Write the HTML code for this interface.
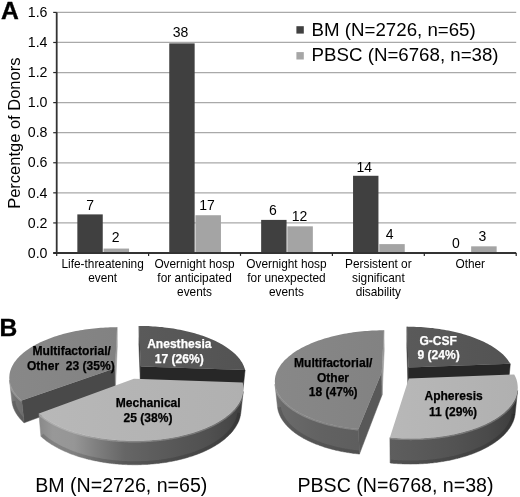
<!DOCTYPE html>
<html><head><meta charset="utf-8"><title>Figure</title>
<style>html,body{margin:0;padding:0;background:#fff}svg{display:block;filter:blur(0.35px)}</style></head>
<body>
<svg width="520" height="497" viewBox="0 0 520 497" font-family="Liberation Sans, Arial, sans-serif">
<defs>
</defs>
<rect width="520" height="497" fill="#fff"/>
<line x1="56.7" x2="516.2" y1="222.93" y2="222.93" stroke="#a9a9a9" stroke-width="1.25"/>
<line x1="56.7" x2="516.2" y1="192.85" y2="192.85" stroke="#a9a9a9" stroke-width="1.25"/>
<line x1="56.7" x2="516.2" y1="162.77" y2="162.77" stroke="#a9a9a9" stroke-width="1.25"/>
<line x1="56.7" x2="516.2" y1="132.70" y2="132.70" stroke="#a9a9a9" stroke-width="1.25"/>
<line x1="56.7" x2="516.2" y1="102.62" y2="102.62" stroke="#a9a9a9" stroke-width="1.25"/>
<line x1="56.7" x2="516.2" y1="72.55" y2="72.55" stroke="#a9a9a9" stroke-width="1.25"/>
<line x1="56.7" x2="516.2" y1="42.47" y2="42.47" stroke="#a9a9a9" stroke-width="1.25"/>
<line x1="56.7" x2="516.2" y1="12.40" y2="12.40" stroke="#a9a9a9" stroke-width="1.25"/>
<rect x="77.35" y="214.39" width="25.4" height="38.61" fill="#404040"/>
<rect x="103.55" y="248.56" width="25.5" height="4.44" fill="#a4a4a4"/>
<text x="90.05" y="210.39" font-size="14" text-anchor="middle" fill="#000">7</text>
<text x="115.65" y="242.26" font-size="14" text-anchor="middle" fill="#000">2</text>
<rect x="169.25" y="43.38" width="25.4" height="209.62" fill="#404040"/>
<rect x="195.45" y="215.23" width="25.5" height="37.77" fill="#a4a4a4"/>
<text x="180.45" y="37.28" font-size="14" text-anchor="middle" fill="#000">38</text>
<text x="207.05" y="210.23" font-size="14" text-anchor="middle" fill="#000">17</text>
<rect x="261.15" y="219.90" width="25.4" height="33.10" fill="#404040"/>
<rect x="287.35" y="226.34" width="25.5" height="26.66" fill="#a4a4a4"/>
<text x="272.95" y="214.90" font-size="14" text-anchor="middle" fill="#000">6</text>
<text x="299.45" y="220.94" font-size="14" text-anchor="middle" fill="#000">12</text>
<rect x="353.05" y="175.77" width="25.4" height="77.23" fill="#404040"/>
<rect x="379.25" y="244.11" width="25.5" height="8.89" fill="#a4a4a4"/>
<text x="364.35" y="171.97" font-size="14" text-anchor="middle" fill="#000">14</text>
<text x="389.65" y="238.51" font-size="14" text-anchor="middle" fill="#000">4</text>
<rect x="471.15" y="246.33" width="25.5" height="6.67" fill="#a4a4a4"/>
<text x="455.95" y="247.60" font-size="14" text-anchor="middle" fill="#000">0</text>
<text x="482.45" y="240.93" font-size="14" text-anchor="middle" fill="#000">3</text>
<line x1="56.7" x2="56.7" y1="12.4" y2="253.5" stroke="#333" stroke-width="1.8"/>
<line x1="53.2" x2="516.2" y1="253.0" y2="253.0" stroke="#333" stroke-width="1.8"/>
<line x1="53.2" x2="56.7" y1="253.00" y2="253.00" stroke="#262626" stroke-width="1.2"/>
<text x="47.5" y="257.70" font-size="14.2" text-anchor="end" fill="#000">0.0</text>
<line x1="53.2" x2="56.7" y1="222.93" y2="222.93" stroke="#262626" stroke-width="1.2"/>
<text x="47.5" y="227.62" font-size="14.2" text-anchor="end" fill="#000">0.2</text>
<line x1="53.2" x2="56.7" y1="192.85" y2="192.85" stroke="#262626" stroke-width="1.2"/>
<text x="47.5" y="197.55" font-size="14.2" text-anchor="end" fill="#000">0.4</text>
<line x1="53.2" x2="56.7" y1="162.77" y2="162.77" stroke="#262626" stroke-width="1.2"/>
<text x="47.5" y="167.47" font-size="14.2" text-anchor="end" fill="#000">0.6</text>
<line x1="53.2" x2="56.7" y1="132.70" y2="132.70" stroke="#262626" stroke-width="1.2"/>
<text x="47.5" y="137.40" font-size="14.2" text-anchor="end" fill="#000">0.8</text>
<line x1="53.2" x2="56.7" y1="102.62" y2="102.62" stroke="#262626" stroke-width="1.2"/>
<text x="47.5" y="107.33" font-size="14.2" text-anchor="end" fill="#000">1.0</text>
<line x1="53.2" x2="56.7" y1="72.55" y2="72.55" stroke="#262626" stroke-width="1.2"/>
<text x="47.5" y="77.25" font-size="14.2" text-anchor="end" fill="#000">1.2</text>
<line x1="53.2" x2="56.7" y1="42.47" y2="42.47" stroke="#262626" stroke-width="1.2"/>
<text x="47.5" y="47.17" font-size="14.2" text-anchor="end" fill="#000">1.4</text>
<line x1="53.2" x2="56.7" y1="12.40" y2="12.40" stroke="#262626" stroke-width="1.2"/>
<text x="47.5" y="17.10" font-size="14.2" text-anchor="end" fill="#000">1.6</text>
<line x1="56.70" x2="56.70" y1="253.0" y2="255.9" stroke="#262626" stroke-width="1.2"/>
<line x1="148.60" x2="148.60" y1="253.0" y2="255.9" stroke="#262626" stroke-width="1.2"/>
<line x1="240.50" x2="240.50" y1="253.0" y2="255.9" stroke="#262626" stroke-width="1.2"/>
<line x1="332.40" x2="332.40" y1="253.0" y2="255.9" stroke="#262626" stroke-width="1.2"/>
<line x1="424.30" x2="424.30" y1="253.0" y2="255.9" stroke="#262626" stroke-width="1.2"/>
<line x1="516.20" x2="516.20" y1="253.0" y2="255.9" stroke="#262626" stroke-width="1.2"/>
<text x="102.65" y="268.30" font-size="11.85" text-anchor="middle" fill="#000">Life-threatening</text>
<text x="102.65" y="282.30" font-size="11.85" text-anchor="middle" fill="#000">event</text>
<text x="194.55" y="268.30" font-size="11.85" text-anchor="middle" fill="#000">Overnight hosp</text>
<text x="194.55" y="282.30" font-size="11.85" text-anchor="middle" fill="#000">for anticipated</text>
<text x="194.55" y="296.30" font-size="11.85" text-anchor="middle" fill="#000">events</text>
<text x="286.45" y="268.30" font-size="11.85" text-anchor="middle" fill="#000">Overnight hosp</text>
<text x="286.45" y="282.30" font-size="11.85" text-anchor="middle" fill="#000">for unexpected</text>
<text x="286.45" y="296.30" font-size="11.85" text-anchor="middle" fill="#000">events</text>
<text x="378.35" y="268.30" font-size="11.85" text-anchor="middle" fill="#000">Persistent or</text>
<text x="378.35" y="282.30" font-size="11.85" text-anchor="middle" fill="#000">significant</text>
<text x="378.35" y="296.30" font-size="11.85" text-anchor="middle" fill="#000">disability</text>
<text x="470.25" y="268.30" font-size="11.85" text-anchor="middle" fill="#000">Other</text>
<text transform="translate(20.2,133.2) rotate(-90)" font-size="16.5" text-anchor="middle" fill="#000">Percentge of Donors</text>
<text x="1.0" y="19.3" font-size="24.7" font-weight="bold" fill="#000" stroke="#000" stroke-width="0.35">A</text>
<text x="-0.5" y="336.0" font-size="24.6" font-weight="bold" fill="#000" stroke="#000" stroke-width="0.35">B</text>
<rect x="296.4" y="26.2" width="7.4" height="7.4" fill="#404040"/>
<text x="311.6" y="35.9" font-size="18.7" fill="#000">BM (N=2726, n=65)</text>
<rect x="296.4" y="52.1" width="7.4" height="7.4" fill="#a6a6a6"/>
<text x="311.6" y="61.3" font-size="18.7" fill="#000">PBSC (N=6768, n=38)</text>
<defs>
<linearGradient id="gM1" x1="0" y1="0" x2="1" y2="0"><stop offset="0" stop-color="#888888"/><stop offset="1" stop-color="#828282"/></linearGradient>
<linearGradient id="gMe1" x1="0" y1="0" x2="1" y2="0"><stop offset="0" stop-color="#b8b8b8"/><stop offset="1" stop-color="#b0b0b0"/></linearGradient>
<linearGradient id="gA1" x1="0" y1="0" x2="1" y2="0"><stop offset="0" stop-color="#5a5a5a"/><stop offset="1" stop-color="#535353"/></linearGradient>
</defs>
<defs></defs>
<polygon points="140.7,366.6 139.1,326.0 138.9,344.3 140.5,387.1" fill="#3a3a3a" stroke="#3a3a3a" stroke-width="0.5" stroke-linejoin="round"/>
<polygon points="140.7,366.6 245.1,370.0 242.8,390.8 140.5,387.1" fill="#272727" stroke="#272727" stroke-width="0.5" stroke-linejoin="round"/>
<polygon points="140.7,366.6 139.1,326.0 141.4,326.0 143.7,326.0 146.0,326.1 148.3,326.1 150.6,326.3 152.9,326.4 155.2,326.5 157.5,326.7 159.8,326.9 162.1,327.1 164.4,327.4 166.6,327.7 168.9,328.0 171.1,328.3 173.4,328.6 175.6,329.0 177.8,329.4 180.0,329.8 182.2,330.2 184.3,330.7 186.4,331.2 188.6,331.7 190.7,332.2 192.7,332.8 194.8,333.3 196.8,333.9 198.8,334.5 200.8,335.2 202.8,335.8 204.7,336.5 206.6,337.2 208.5,338.0 210.3,338.7 212.1,339.5 213.9,340.3 215.6,341.1 217.4,341.9 219.0,342.8 220.7,343.7 222.2,344.6 223.8,345.5 225.3,346.4 226.8,347.4 228.2,348.4 229.6,349.4 230.9,350.4 232.2,351.4 233.4,352.5 234.6,353.5 235.7,354.6 236.8,355.7 237.8,356.8 238.8,358.0 239.7,359.1 240.5,360.3 241.3,361.5 242.1,362.6 242.7,363.8 243.3,365.1 243.9,366.3 244.3,367.5 244.8,368.8 245.1,370.0" fill="url(#gA1)"/>
<defs><linearGradient id="wm1" gradientUnits="userSpaceOnUse" x1="22.9" y1="0" x2="10.7" y2="0"><stop offset="-0.000" stop-color="#6c6c6c"/><stop offset="0.726" stop-color="#747474"/><stop offset="1.000" stop-color="#7c7c7c"/></linearGradient><clipPath id="cm1"><polygon points="21.7,400.6 21.3,400.2 20.8,399.7 20.4,399.3 19.9,398.9 19.5,398.5 19.1,398.1 18.6,397.7 18.2,397.2 17.8,396.8 17.5,396.4 17.1,396.0 16.7,395.5 16.3,395.1 16.0,394.7 15.7,394.3 15.3,393.8 15.0,393.4 14.7,393.0 14.4,392.5 14.1,392.1 13.8,391.7 13.5,391.2 13.2,390.8 13.0,390.3 12.7,389.9 12.5,389.5 12.3,389.0 12.0,388.6 11.8,388.2 11.6,387.7 11.4,387.3 11.2,386.8 11.1,386.4 10.9,386.0 10.7,385.5 10.6,385.1 10.4,384.6 10.3,384.2 10.2,383.8 10.1,383.3 10.0,382.9 9.9,382.4 9.8,382.0 9.7,381.5 9.6,381.1 9.5,380.7 9.5,380.2 11.9,401.5 12.0,401.9 12.0,402.4 12.1,402.8 12.2,403.3 12.3,403.8 12.4,404.2 12.5,404.7 12.6,405.2 12.7,405.6 12.9,406.1 13.0,406.5 13.2,407.0 13.3,407.5 13.5,407.9 13.7,408.4 13.9,408.9 14.1,409.3 14.3,409.8 14.5,410.2 14.7,410.7 14.9,411.2 15.2,411.6 15.4,412.1 15.7,412.5 15.9,413.0 16.2,413.4 16.5,413.9 16.8,414.3 17.1,414.8 17.4,415.3 17.7,415.7 18.1,416.2 18.4,416.6 18.7,417.1 19.1,417.5 19.5,418.0 19.8,418.4 20.2,418.8 20.6,419.3 21.0,419.7 21.4,420.2 21.8,420.6 22.3,421.0 22.7,421.5 23.2,421.9 23.6,422.3 24.1,422.8"/></clipPath></defs>
<polygon points="115.1,368.3 21.7,400.6 24.1,422.8 115.4,388.9" fill="#494949" stroke="#494949" stroke-width="0.5" stroke-linejoin="round"/>
<polygon points="115.1,368.3 117.1,327.2 117.3,345.7 115.4,388.9" fill="#9a9a9a" stroke="#9a9a9a" stroke-width="0.5" stroke-linejoin="round"/>
<polygon points="21.7,400.6 21.3,400.2 20.8,399.7 20.4,399.3 19.9,398.9 19.5,398.5 19.1,398.1 18.6,397.7 18.2,397.2 17.8,396.8 17.5,396.4 17.1,396.0 16.7,395.5 16.3,395.1 16.0,394.7 15.7,394.3 15.3,393.8 15.0,393.4 14.7,393.0 14.4,392.5 14.1,392.1 13.8,391.7 13.5,391.2 13.2,390.8 13.0,390.3 12.7,389.9 12.5,389.5 12.3,389.0 12.0,388.6 11.8,388.2 11.6,387.7 11.4,387.3 11.2,386.8 11.1,386.4 10.9,386.0 10.7,385.5 10.6,385.1 10.4,384.6 10.3,384.2 10.2,383.8 10.1,383.3 10.0,382.9 9.9,382.4 9.8,382.0 9.7,381.5 9.6,381.1 9.5,380.7 9.5,380.2 11.9,401.5 12.0,401.9 12.0,402.4 12.1,402.8 12.2,403.3 12.3,403.8 12.4,404.2 12.5,404.7 12.6,405.2 12.7,405.6 12.9,406.1 13.0,406.5 13.2,407.0 13.3,407.5 13.5,407.9 13.7,408.4 13.9,408.9 14.1,409.3 14.3,409.8 14.5,410.2 14.7,410.7 14.9,411.2 15.2,411.6 15.4,412.1 15.7,412.5 15.9,413.0 16.2,413.4 16.5,413.9 16.8,414.3 17.1,414.8 17.4,415.3 17.7,415.7 18.1,416.2 18.4,416.6 18.7,417.1 19.1,417.5 19.5,418.0 19.8,418.4 20.2,418.8 20.6,419.3 21.0,419.7 21.4,420.2 21.8,420.6 22.3,421.0 22.7,421.5 23.2,421.9 23.6,422.3 24.1,422.8" fill="url(#wm1)" stroke="url(#wm1)" stroke-width="0.5" stroke-linejoin="round"/>
<g clip-path="url(#cm1)" fill="none"><polyline points="21.7,400.6 21.3,400.2 20.8,399.7 20.4,399.3 19.9,398.9 19.5,398.5 19.1,398.1 18.6,397.7 18.2,397.2 17.8,396.8 17.5,396.4 17.1,396.0 16.7,395.5 16.3,395.1 16.0,394.7 15.7,394.3 15.3,393.8 15.0,393.4 14.7,393.0 14.4,392.5 14.1,392.1 13.8,391.7 13.5,391.2 13.2,390.8 13.0,390.3 12.7,389.9 12.5,389.5 12.3,389.0 12.0,388.6 11.8,388.2 11.6,387.7 11.4,387.3 11.2,386.8 11.1,386.4 10.9,386.0 10.7,385.5 10.6,385.1 10.4,384.6 10.3,384.2 10.2,383.8 10.1,383.3 10.0,382.9 9.9,382.4 9.8,382.0 9.7,381.5 9.6,381.1 9.5,380.7 9.5,380.2" stroke="#fff" stroke-opacity="0.22" stroke-width="3.2"/><polyline points="11.9,401.5 12.0,401.9 12.0,402.4 12.1,402.8 12.2,403.3 12.3,403.8 12.4,404.2 12.5,404.7 12.6,405.2 12.7,405.6 12.9,406.1 13.0,406.5 13.2,407.0 13.3,407.5 13.5,407.9 13.7,408.4 13.9,408.9 14.1,409.3 14.3,409.8 14.5,410.2 14.7,410.7 14.9,411.2 15.2,411.6 15.4,412.1 15.7,412.5 15.9,413.0 16.2,413.4 16.5,413.9 16.8,414.3 17.1,414.8 17.4,415.3 17.7,415.7 18.1,416.2 18.4,416.6 18.7,417.1 19.1,417.5 19.5,418.0 19.8,418.4 20.2,418.8 20.6,419.3 21.0,419.7 21.4,420.2 21.8,420.6 22.3,421.0 22.7,421.5 23.2,421.9 23.6,422.3 24.1,422.8" stroke="#000" stroke-opacity="0.14" stroke-width="7"/></g>
<polygon points="115.1,368.3 21.7,400.6 20.4,399.3 19.1,398.1 17.8,396.8 16.7,395.5 15.7,394.3 14.7,393.0 13.8,391.7 13.0,390.4 12.3,389.0 11.6,387.7 11.1,386.4 10.6,385.1 10.2,383.8 9.9,382.4 9.6,381.1 9.4,379.8 9.3,378.5 9.3,377.2 9.4,375.9 9.5,374.6 9.7,373.3 10.0,372.0 10.3,370.7 10.8,369.5 11.2,368.2 11.8,367.0 12.4,365.7 13.1,364.5 13.8,363.3 14.6,362.1 15.5,360.9 16.4,359.8 17.4,358.6 18.4,357.5 19.5,356.3 20.6,355.2 21.8,354.2 23.1,353.1 24.4,352.0 25.7,351.0 27.1,350.0 28.6,349.0 30.0,348.0 31.6,347.1 33.1,346.1 34.8,345.2 36.4,344.3 38.1,343.5 39.8,342.6 41.6,341.8 43.4,341.0 45.2,340.2 47.1,339.4 48.9,338.7 50.9,338.0 52.8,337.3 54.8,336.6 56.8,335.9 58.8,335.3 60.9,334.7 63.0,334.1 65.1,333.6 67.2,333.0 69.3,332.5 71.5,332.0 73.7,331.6 75.9,331.1 78.1,330.7 80.3,330.3 82.5,329.9 84.8,329.6 87.0,329.3 89.3,329.0 91.6,328.7 93.9,328.4 96.2,328.2 98.5,328.0 100.8,327.8 103.1,327.7 105.5,327.5 107.8,327.4 110.1,327.3 112.5,327.3 114.8,327.2 117.1,327.2" fill="url(#gM1)"/>
<defs><linearGradient id="wme1" gradientUnits="userSpaceOnUse" x1="241.6" y1="0" x2="40.0" y2="0"><stop offset="-0.000" stop-color="#3a3a3a"/><stop offset="-0.001" stop-color="#3e3e3e"/><stop offset="0.066" stop-color="#484848"/><stop offset="0.163" stop-color="#505050"/><stop offset="0.295" stop-color="#565656"/><stop offset="0.436" stop-color="#5d5d5d"/><stop offset="0.580" stop-color="#666666"/><stop offset="0.725" stop-color="#808080"/><stop offset="0.831" stop-color="#969696"/><stop offset="0.936" stop-color="#989898"/><stop offset="1.000" stop-color="#8a8a8a"/></linearGradient><clipPath id="cme1"><polygon points="243.2,391.4 243.1,391.9 243.0,392.4 242.9,392.9 242.9,393.3 242.8,393.8 242.7,394.3 242.5,394.8 242.4,395.2 242.3,395.7 242.1,396.2 242.0,396.7 241.8,397.1 241.6,397.6 241.5,398.1 241.3,398.6 241.1,399.0 240.9,399.5 240.6,400.0 240.4,400.5 240.2,400.9 239.9,401.4 239.7,401.9 239.4,402.4 239.1,402.8 238.9,403.3 238.6,403.8 238.3,404.2 237.9,404.7 237.6,405.2 237.3,405.7 237.0,406.1 236.6,406.6 236.2,407.1 235.9,407.5 235.5,408.0 235.1,408.4 234.7,408.9 234.3,409.4 233.9,409.8 233.5,410.3 233.0,410.7 232.6,411.2 232.1,411.6 231.6,412.1 231.2,412.5 230.7,413.0 230.2,413.4 229.7,413.9 229.2,414.3 228.7,414.8 228.1,415.2 227.6,415.6 227.0,416.1 226.5,416.5 225.9,416.9 225.3,417.4 224.7,417.8 224.1,418.2 223.5,418.6 222.9,419.0 222.3,419.5 221.7,419.9 221.0,420.3 220.4,420.7 219.7,421.1 219.0,421.5 218.3,421.9 217.7,422.3 217.0,422.7 216.2,423.1 215.5,423.5 214.8,423.9 214.1,424.2 213.3,424.6 212.6,425.0 211.8,425.4 211.1,425.7 210.3,426.1 209.5,426.5 208.7,426.8 207.9,427.2 207.1,427.5 206.3,427.9 205.5,428.2 204.6,428.6 203.8,428.9 202.9,429.2 202.1,429.6 201.2,429.9 200.3,430.2 199.5,430.5 198.6,430.9 197.7,431.2 196.8,431.5 195.9,431.8 195.0,432.1 194.0,432.4 193.1,432.7 192.2,432.9 191.2,433.2 190.3,433.5 189.3,433.8 188.4,434.0 187.4,434.3 186.4,434.6 185.4,434.8 184.4,435.1 183.4,435.3 182.4,435.5 181.4,435.8 180.4,436.0 179.4,436.2 178.4,436.4 177.4,436.7 176.3,436.9 175.3,437.1 174.3,437.3 173.2,437.5 172.2,437.7 171.1,437.8 170.0,438.0 169.0,438.2 167.9,438.4 166.8,438.5 165.8,438.7 164.7,438.8 163.6,439.0 162.5,439.1 161.4,439.2 160.3,439.4 159.2,439.5 158.1,439.6 157.0,439.7 155.9,439.8 154.8,439.9 153.7,440.0 152.6,440.1 151.4,440.2 150.3,440.3 149.2,440.4 148.1,440.4 147.0,440.5 145.8,440.6 144.7,440.6 143.6,440.7 142.4,440.7 141.3,440.7 140.2,440.8 139.0,440.8 137.9,440.8 136.8,440.8 135.6,440.8 134.5,440.8 133.4,440.8 132.2,440.8 131.1,440.8 130.0,440.8 128.8,440.8 127.7,440.7 126.6,440.7 125.4,440.6 124.3,440.6 123.2,440.5 122.1,440.5 120.9,440.4 119.8,440.3 118.7,440.3 117.6,440.2 116.5,440.1 115.3,440.0 114.2,439.9 113.1,439.8 112.0,439.7 110.9,439.6 109.8,439.4 108.7,439.3 107.6,439.2 106.5,439.0 105.4,438.9 104.3,438.7 103.2,438.6 102.2,438.4 101.1,438.3 100.0,438.1 98.9,437.9 97.9,437.7 96.8,437.5 95.8,437.3 94.7,437.1 93.7,436.9 92.6,436.7 91.6,436.5 90.6,436.3 89.5,436.1 88.5,435.9 87.5,435.6 86.5,435.4 85.5,435.2 84.5,434.9 83.5,434.7 82.5,434.4 81.5,434.1 80.6,433.9 79.6,433.6 78.6,433.3 77.7,433.1 76.7,432.8 75.8,432.5 74.9,432.2 73.9,431.9 73.0,431.6 72.1,431.3 71.2,431.0 70.3,430.7 69.4,430.4 68.5,430.0 67.6,429.7 66.8,429.4 65.9,429.0 65.0,428.7 64.2,428.4 63.4,428.0 62.5,427.7 61.7,427.3 60.9,427.0 60.1,426.6 59.3,426.2 58.5,425.9 57.7,425.5 56.9,425.1 56.2,424.8 55.4,424.4 54.7,424.0 53.9,423.6 53.2,423.2 52.5,422.8 51.8,422.5 51.1,422.1 50.4,421.7 49.7,421.3 49.0,420.8 48.3,420.4 47.7,420.0 47.0,419.6 46.4,419.2 45.7,418.8 45.1,418.4 44.5,417.9 43.9,417.5 43.3,417.1 42.7,416.7 42.1,416.2 41.6,415.8 41.0,415.4 40.5,414.9 39.9,414.5 39.4,414.0 38.9,413.6 40.9,436.4 41.4,436.8 41.9,437.3 42.5,437.8 43.0,438.2 43.6,438.7 44.1,439.1 44.7,439.6 45.3,440.0 45.8,440.5 46.4,440.9 47.0,441.4 47.6,441.8 48.3,442.2 48.9,442.7 49.5,443.1 50.2,443.5 50.8,444.0 51.5,444.4 52.2,444.8 52.9,445.2 53.6,445.6 54.3,446.0 55.0,446.4 55.7,446.8 56.4,447.2 57.1,447.6 57.9,448.0 58.6,448.4 59.4,448.8 60.1,449.2 60.9,449.6 61.7,450.0 62.5,450.3 63.3,450.7 64.1,451.1 64.9,451.4 65.7,451.8 66.6,452.1 67.4,452.5 68.2,452.8 69.1,453.2 69.9,453.5 70.8,453.9 71.7,454.2 72.6,454.5 73.4,454.8 74.3,455.1 75.2,455.5 76.1,455.8 77.1,456.1 78.0,456.4 78.9,456.7 79.8,457.0 80.8,457.2 81.7,457.5 82.7,457.8 83.6,458.1 84.6,458.3 85.6,458.6 86.5,458.9 87.5,459.1 88.5,459.4 89.5,459.6 90.5,459.8 91.5,460.1 92.5,460.3 93.5,460.5 94.5,460.7 95.5,460.9 96.6,461.1 97.6,461.3 98.6,461.5 99.7,461.7 100.7,461.9 101.8,462.1 102.8,462.3 103.9,462.4 104.9,462.6 106.0,462.7 107.0,462.9 108.1,463.0 109.2,463.2 110.3,463.3 111.3,463.4 112.4,463.6 113.5,463.7 114.6,463.8 115.7,463.9 116.8,464.0 117.9,464.1 118.9,464.2 120.0,464.2 121.1,464.3 122.2,464.4 123.3,464.5 124.4,464.5 125.5,464.6 126.6,464.6 127.7,464.7 128.9,464.7 130.0,464.7 131.1,464.7 132.2,464.8 133.3,464.8 134.4,464.8 135.5,464.8 136.6,464.8 137.7,464.8 138.8,464.7 139.9,464.7 141.0,464.7 142.1,464.6 143.2,464.6 144.3,464.5 145.4,464.5 146.5,464.4 147.6,464.4 148.7,464.3 149.8,464.2 150.9,464.1 152.0,464.0 153.1,463.9 154.2,463.8 155.3,463.7 156.3,463.6 157.4,463.5 158.5,463.4 159.6,463.3 160.6,463.1 161.7,463.0 162.8,462.8 163.8,462.7 164.9,462.5 165.9,462.4 167.0,462.2 168.0,462.0 169.1,461.8 170.1,461.6 171.1,461.5 172.1,461.3 173.2,461.1 174.2,460.9 175.2,460.6 176.2,460.4 177.2,460.2 178.2,460.0 179.2,459.7 180.2,459.5 181.2,459.3 182.1,459.0 183.1,458.8 184.1,458.5 185.0,458.2 186.0,458.0 186.9,457.7 187.9,457.4 188.8,457.1 189.7,456.8 190.7,456.6 191.6,456.3 192.5,456.0 193.4,455.7 194.3,455.3 195.2,455.0 196.1,454.7 196.9,454.4 197.8,454.1 198.7,453.7 199.5,453.4 200.4,453.1 201.2,452.7 202.0,452.4 202.9,452.0 203.7,451.7 204.5,451.3 205.3,450.9 206.1,450.6 206.9,450.2 207.6,449.8 208.4,449.4 209.2,449.1 209.9,448.7 210.6,448.3 211.4,447.9 212.1,447.5 212.8,447.1 213.5,446.7 214.2,446.3 214.9,445.9 215.6,445.5 216.3,445.0 217.0,444.6 217.6,444.2 218.3,443.8 218.9,443.4 219.5,442.9 220.2,442.5 220.8,442.1 221.4,441.6 222.0,441.2 222.6,440.7 223.1,440.3 223.7,439.9 224.3,439.4 224.8,439.0 225.4,438.5 225.9,438.0 226.4,437.6 226.9,437.1 227.4,436.7 227.9,436.2 228.4,435.7 228.9,435.3 229.4,434.8 229.8,434.3 230.3,433.9 230.7,433.4 231.1,432.9 231.6,432.4 232.0,432.0 232.4,431.5 232.8,431.0 233.1,430.5 233.5,430.0 233.9,429.5 234.2,429.1 234.6,428.6 234.9,428.1 235.2,427.6 235.6,427.1 235.9,426.6 236.2,426.1 236.5,425.6 236.7,425.1 237.0,424.6 237.3,424.1 237.5,423.7 237.8,423.2 238.0,422.7 238.2,422.2 238.5,421.7 238.7,421.2 238.9,420.7 239.1,420.2 239.2,419.7 239.4,419.2 239.6,418.7 239.7,418.2 239.9,417.7 240.0,417.2 240.1,416.7 240.2,416.2 240.4,415.7 240.5,415.2 240.5,414.7 240.6,414.2 240.7,413.7 240.8,413.2"/></clipPath></defs>
<polygon points="243.2,391.4 243.1,391.9 243.0,392.4 242.9,392.9 242.9,393.3 242.8,393.8 242.7,394.3 242.5,394.8 242.4,395.2 242.3,395.7 242.1,396.2 242.0,396.7 241.8,397.1 241.6,397.6 241.5,398.1 241.3,398.6 241.1,399.0 240.9,399.5 240.6,400.0 240.4,400.5 240.2,400.9 239.9,401.4 239.7,401.9 239.4,402.4 239.1,402.8 238.9,403.3 238.6,403.8 238.3,404.2 237.9,404.7 237.6,405.2 237.3,405.7 237.0,406.1 236.6,406.6 236.2,407.1 235.9,407.5 235.5,408.0 235.1,408.4 234.7,408.9 234.3,409.4 233.9,409.8 233.5,410.3 233.0,410.7 232.6,411.2 232.1,411.6 231.6,412.1 231.2,412.5 230.7,413.0 230.2,413.4 229.7,413.9 229.2,414.3 228.7,414.8 228.1,415.2 227.6,415.6 227.0,416.1 226.5,416.5 225.9,416.9 225.3,417.4 224.7,417.8 224.1,418.2 223.5,418.6 222.9,419.0 222.3,419.5 221.7,419.9 221.0,420.3 220.4,420.7 219.7,421.1 219.0,421.5 218.3,421.9 217.7,422.3 217.0,422.7 216.2,423.1 215.5,423.5 214.8,423.9 214.1,424.2 213.3,424.6 212.6,425.0 211.8,425.4 211.1,425.7 210.3,426.1 209.5,426.5 208.7,426.8 207.9,427.2 207.1,427.5 206.3,427.9 205.5,428.2 204.6,428.6 203.8,428.9 202.9,429.2 202.1,429.6 201.2,429.9 200.3,430.2 199.5,430.5 198.6,430.9 197.7,431.2 196.8,431.5 195.9,431.8 195.0,432.1 194.0,432.4 193.1,432.7 192.2,432.9 191.2,433.2 190.3,433.5 189.3,433.8 188.4,434.0 187.4,434.3 186.4,434.6 185.4,434.8 184.4,435.1 183.4,435.3 182.4,435.5 181.4,435.8 180.4,436.0 179.4,436.2 178.4,436.4 177.4,436.7 176.3,436.9 175.3,437.1 174.3,437.3 173.2,437.5 172.2,437.7 171.1,437.8 170.0,438.0 169.0,438.2 167.9,438.4 166.8,438.5 165.8,438.7 164.7,438.8 163.6,439.0 162.5,439.1 161.4,439.2 160.3,439.4 159.2,439.5 158.1,439.6 157.0,439.7 155.9,439.8 154.8,439.9 153.7,440.0 152.6,440.1 151.4,440.2 150.3,440.3 149.2,440.4 148.1,440.4 147.0,440.5 145.8,440.6 144.7,440.6 143.6,440.7 142.4,440.7 141.3,440.7 140.2,440.8 139.0,440.8 137.9,440.8 136.8,440.8 135.6,440.8 134.5,440.8 133.4,440.8 132.2,440.8 131.1,440.8 130.0,440.8 128.8,440.8 127.7,440.7 126.6,440.7 125.4,440.6 124.3,440.6 123.2,440.5 122.1,440.5 120.9,440.4 119.8,440.3 118.7,440.3 117.6,440.2 116.5,440.1 115.3,440.0 114.2,439.9 113.1,439.8 112.0,439.7 110.9,439.6 109.8,439.4 108.7,439.3 107.6,439.2 106.5,439.0 105.4,438.9 104.3,438.7 103.2,438.6 102.2,438.4 101.1,438.3 100.0,438.1 98.9,437.9 97.9,437.7 96.8,437.5 95.8,437.3 94.7,437.1 93.7,436.9 92.6,436.7 91.6,436.5 90.6,436.3 89.5,436.1 88.5,435.9 87.5,435.6 86.5,435.4 85.5,435.2 84.5,434.9 83.5,434.7 82.5,434.4 81.5,434.1 80.6,433.9 79.6,433.6 78.6,433.3 77.7,433.1 76.7,432.8 75.8,432.5 74.9,432.2 73.9,431.9 73.0,431.6 72.1,431.3 71.2,431.0 70.3,430.7 69.4,430.4 68.5,430.0 67.6,429.7 66.8,429.4 65.9,429.0 65.0,428.7 64.2,428.4 63.4,428.0 62.5,427.7 61.7,427.3 60.9,427.0 60.1,426.6 59.3,426.2 58.5,425.9 57.7,425.5 56.9,425.1 56.2,424.8 55.4,424.4 54.7,424.0 53.9,423.6 53.2,423.2 52.5,422.8 51.8,422.5 51.1,422.1 50.4,421.7 49.7,421.3 49.0,420.8 48.3,420.4 47.7,420.0 47.0,419.6 46.4,419.2 45.7,418.8 45.1,418.4 44.5,417.9 43.9,417.5 43.3,417.1 42.7,416.7 42.1,416.2 41.6,415.8 41.0,415.4 40.5,414.9 39.9,414.5 39.4,414.0 38.9,413.6 40.9,436.4 41.4,436.8 41.9,437.3 42.5,437.8 43.0,438.2 43.6,438.7 44.1,439.1 44.7,439.6 45.3,440.0 45.8,440.5 46.4,440.9 47.0,441.4 47.6,441.8 48.3,442.2 48.9,442.7 49.5,443.1 50.2,443.5 50.8,444.0 51.5,444.4 52.2,444.8 52.9,445.2 53.6,445.6 54.3,446.0 55.0,446.4 55.7,446.8 56.4,447.2 57.1,447.6 57.9,448.0 58.6,448.4 59.4,448.8 60.1,449.2 60.9,449.6 61.7,450.0 62.5,450.3 63.3,450.7 64.1,451.1 64.9,451.4 65.7,451.8 66.6,452.1 67.4,452.5 68.2,452.8 69.1,453.2 69.9,453.5 70.8,453.9 71.7,454.2 72.6,454.5 73.4,454.8 74.3,455.1 75.2,455.5 76.1,455.8 77.1,456.1 78.0,456.4 78.9,456.7 79.8,457.0 80.8,457.2 81.7,457.5 82.7,457.8 83.6,458.1 84.6,458.3 85.6,458.6 86.5,458.9 87.5,459.1 88.5,459.4 89.5,459.6 90.5,459.8 91.5,460.1 92.5,460.3 93.5,460.5 94.5,460.7 95.5,460.9 96.6,461.1 97.6,461.3 98.6,461.5 99.7,461.7 100.7,461.9 101.8,462.1 102.8,462.3 103.9,462.4 104.9,462.6 106.0,462.7 107.0,462.9 108.1,463.0 109.2,463.2 110.3,463.3 111.3,463.4 112.4,463.6 113.5,463.7 114.6,463.8 115.7,463.9 116.8,464.0 117.9,464.1 118.9,464.2 120.0,464.2 121.1,464.3 122.2,464.4 123.3,464.5 124.4,464.5 125.5,464.6 126.6,464.6 127.7,464.7 128.9,464.7 130.0,464.7 131.1,464.7 132.2,464.8 133.3,464.8 134.4,464.8 135.5,464.8 136.6,464.8 137.7,464.8 138.8,464.7 139.9,464.7 141.0,464.7 142.1,464.6 143.2,464.6 144.3,464.5 145.4,464.5 146.5,464.4 147.6,464.4 148.7,464.3 149.8,464.2 150.9,464.1 152.0,464.0 153.1,463.9 154.2,463.8 155.3,463.7 156.3,463.6 157.4,463.5 158.5,463.4 159.6,463.3 160.6,463.1 161.7,463.0 162.8,462.8 163.8,462.7 164.9,462.5 165.9,462.4 167.0,462.2 168.0,462.0 169.1,461.8 170.1,461.6 171.1,461.5 172.1,461.3 173.2,461.1 174.2,460.9 175.2,460.6 176.2,460.4 177.2,460.2 178.2,460.0 179.2,459.7 180.2,459.5 181.2,459.3 182.1,459.0 183.1,458.8 184.1,458.5 185.0,458.2 186.0,458.0 186.9,457.7 187.9,457.4 188.8,457.1 189.7,456.8 190.7,456.6 191.6,456.3 192.5,456.0 193.4,455.7 194.3,455.3 195.2,455.0 196.1,454.7 196.9,454.4 197.8,454.1 198.7,453.7 199.5,453.4 200.4,453.1 201.2,452.7 202.0,452.4 202.9,452.0 203.7,451.7 204.5,451.3 205.3,450.9 206.1,450.6 206.9,450.2 207.6,449.8 208.4,449.4 209.2,449.1 209.9,448.7 210.6,448.3 211.4,447.9 212.1,447.5 212.8,447.1 213.5,446.7 214.2,446.3 214.9,445.9 215.6,445.5 216.3,445.0 217.0,444.6 217.6,444.2 218.3,443.8 218.9,443.4 219.5,442.9 220.2,442.5 220.8,442.1 221.4,441.6 222.0,441.2 222.6,440.7 223.1,440.3 223.7,439.9 224.3,439.4 224.8,439.0 225.4,438.5 225.9,438.0 226.4,437.6 226.9,437.1 227.4,436.7 227.9,436.2 228.4,435.7 228.9,435.3 229.4,434.8 229.8,434.3 230.3,433.9 230.7,433.4 231.1,432.9 231.6,432.4 232.0,432.0 232.4,431.5 232.8,431.0 233.1,430.5 233.5,430.0 233.9,429.5 234.2,429.1 234.6,428.6 234.9,428.1 235.2,427.6 235.6,427.1 235.9,426.6 236.2,426.1 236.5,425.6 236.7,425.1 237.0,424.6 237.3,424.1 237.5,423.7 237.8,423.2 238.0,422.7 238.2,422.2 238.5,421.7 238.7,421.2 238.9,420.7 239.1,420.2 239.2,419.7 239.4,419.2 239.6,418.7 239.7,418.2 239.9,417.7 240.0,417.2 240.1,416.7 240.2,416.2 240.4,415.7 240.5,415.2 240.5,414.7 240.6,414.2 240.7,413.7 240.8,413.2" fill="url(#wme1)" stroke="url(#wme1)" stroke-width="0.5" stroke-linejoin="round"/>
<g clip-path="url(#cme1)" fill="none"><polyline points="243.2,391.4 243.1,391.9 243.0,392.4 242.9,392.9 242.9,393.3 242.8,393.8 242.7,394.3 242.5,394.8 242.4,395.2 242.3,395.7 242.1,396.2 242.0,396.7 241.8,397.1 241.6,397.6 241.5,398.1 241.3,398.6 241.1,399.0 240.9,399.5 240.6,400.0 240.4,400.5 240.2,400.9 239.9,401.4 239.7,401.9 239.4,402.4 239.1,402.8 238.9,403.3 238.6,403.8 238.3,404.2 237.9,404.7 237.6,405.2 237.3,405.7 237.0,406.1 236.6,406.6 236.2,407.1 235.9,407.5 235.5,408.0 235.1,408.4 234.7,408.9 234.3,409.4 233.9,409.8 233.5,410.3 233.0,410.7 232.6,411.2 232.1,411.6 231.6,412.1 231.2,412.5 230.7,413.0 230.2,413.4 229.7,413.9 229.2,414.3 228.7,414.8 228.1,415.2 227.6,415.6 227.0,416.1 226.5,416.5 225.9,416.9 225.3,417.4 224.7,417.8 224.1,418.2 223.5,418.6 222.9,419.0 222.3,419.5 221.7,419.9 221.0,420.3 220.4,420.7 219.7,421.1 219.0,421.5 218.3,421.9 217.7,422.3 217.0,422.7 216.2,423.1 215.5,423.5 214.8,423.9 214.1,424.2 213.3,424.6 212.6,425.0 211.8,425.4 211.1,425.7 210.3,426.1 209.5,426.5 208.7,426.8 207.9,427.2 207.1,427.5 206.3,427.9 205.5,428.2 204.6,428.6 203.8,428.9 202.9,429.2 202.1,429.6 201.2,429.9 200.3,430.2 199.5,430.5 198.6,430.9 197.7,431.2 196.8,431.5 195.9,431.8 195.0,432.1 194.0,432.4 193.1,432.7 192.2,432.9 191.2,433.2 190.3,433.5 189.3,433.8 188.4,434.0 187.4,434.3 186.4,434.6 185.4,434.8 184.4,435.1 183.4,435.3 182.4,435.5 181.4,435.8 180.4,436.0 179.4,436.2 178.4,436.4 177.4,436.7 176.3,436.9 175.3,437.1 174.3,437.3 173.2,437.5 172.2,437.7 171.1,437.8 170.0,438.0 169.0,438.2 167.9,438.4 166.8,438.5 165.8,438.7 164.7,438.8 163.6,439.0 162.5,439.1 161.4,439.2 160.3,439.4 159.2,439.5 158.1,439.6 157.0,439.7 155.9,439.8 154.8,439.9 153.7,440.0 152.6,440.1 151.4,440.2 150.3,440.3 149.2,440.4 148.1,440.4 147.0,440.5 145.8,440.6 144.7,440.6 143.6,440.7 142.4,440.7 141.3,440.7 140.2,440.8 139.0,440.8 137.9,440.8 136.8,440.8 135.6,440.8 134.5,440.8 133.4,440.8 132.2,440.8 131.1,440.8 130.0,440.8 128.8,440.8 127.7,440.7 126.6,440.7 125.4,440.6 124.3,440.6 123.2,440.5 122.1,440.5 120.9,440.4 119.8,440.3 118.7,440.3 117.6,440.2 116.5,440.1 115.3,440.0 114.2,439.9 113.1,439.8 112.0,439.7 110.9,439.6 109.8,439.4 108.7,439.3 107.6,439.2 106.5,439.0 105.4,438.9 104.3,438.7 103.2,438.6 102.2,438.4 101.1,438.3 100.0,438.1 98.9,437.9 97.9,437.7 96.8,437.5 95.8,437.3 94.7,437.1 93.7,436.9 92.6,436.7 91.6,436.5 90.6,436.3 89.5,436.1 88.5,435.9 87.5,435.6 86.5,435.4 85.5,435.2 84.5,434.9 83.5,434.7 82.5,434.4 81.5,434.1 80.6,433.9 79.6,433.6 78.6,433.3 77.7,433.1 76.7,432.8 75.8,432.5 74.9,432.2 73.9,431.9 73.0,431.6 72.1,431.3 71.2,431.0 70.3,430.7 69.4,430.4 68.5,430.0 67.6,429.7 66.8,429.4 65.9,429.0 65.0,428.7 64.2,428.4 63.4,428.0 62.5,427.7 61.7,427.3 60.9,427.0 60.1,426.6 59.3,426.2 58.5,425.9 57.7,425.5 56.9,425.1 56.2,424.8 55.4,424.4 54.7,424.0 53.9,423.6 53.2,423.2 52.5,422.8 51.8,422.5 51.1,422.1 50.4,421.7 49.7,421.3 49.0,420.8 48.3,420.4 47.7,420.0 47.0,419.6 46.4,419.2 45.7,418.8 45.1,418.4 44.5,417.9 43.9,417.5 43.3,417.1 42.7,416.7 42.1,416.2 41.6,415.8 41.0,415.4 40.5,414.9 39.9,414.5 39.4,414.0 38.9,413.6" stroke="#fff" stroke-opacity="0.22" stroke-width="3.2"/><polyline points="40.9,436.4 41.4,436.8 41.9,437.3 42.5,437.8 43.0,438.2 43.6,438.7 44.1,439.1 44.7,439.6 45.3,440.0 45.8,440.5 46.4,440.9 47.0,441.4 47.6,441.8 48.3,442.2 48.9,442.7 49.5,443.1 50.2,443.5 50.8,444.0 51.5,444.4 52.2,444.8 52.9,445.2 53.6,445.6 54.3,446.0 55.0,446.4 55.7,446.8 56.4,447.2 57.1,447.6 57.9,448.0 58.6,448.4 59.4,448.8 60.1,449.2 60.9,449.6 61.7,450.0 62.5,450.3 63.3,450.7 64.1,451.1 64.9,451.4 65.7,451.8 66.6,452.1 67.4,452.5 68.2,452.8 69.1,453.2 69.9,453.5 70.8,453.9 71.7,454.2 72.6,454.5 73.4,454.8 74.3,455.1 75.2,455.5 76.1,455.8 77.1,456.1 78.0,456.4 78.9,456.7 79.8,457.0 80.8,457.2 81.7,457.5 82.7,457.8 83.6,458.1 84.6,458.3 85.6,458.6 86.5,458.9 87.5,459.1 88.5,459.4 89.5,459.6 90.5,459.8 91.5,460.1 92.5,460.3 93.5,460.5 94.5,460.7 95.5,460.9 96.6,461.1 97.6,461.3 98.6,461.5 99.7,461.7 100.7,461.9 101.8,462.1 102.8,462.3 103.9,462.4 104.9,462.6 106.0,462.7 107.0,462.9 108.1,463.0 109.2,463.2 110.3,463.3 111.3,463.4 112.4,463.6 113.5,463.7 114.6,463.8 115.7,463.9 116.8,464.0 117.9,464.1 118.9,464.2 120.0,464.2 121.1,464.3 122.2,464.4 123.3,464.5 124.4,464.5 125.5,464.6 126.6,464.6 127.7,464.7 128.9,464.7 130.0,464.7 131.1,464.7 132.2,464.8 133.3,464.8 134.4,464.8 135.5,464.8 136.6,464.8 137.7,464.8 138.8,464.7 139.9,464.7 141.0,464.7 142.1,464.6 143.2,464.6 144.3,464.5 145.4,464.5 146.5,464.4 147.6,464.4 148.7,464.3 149.8,464.2 150.9,464.1 152.0,464.0 153.1,463.9 154.2,463.8 155.3,463.7 156.3,463.6 157.4,463.5 158.5,463.4 159.6,463.3 160.6,463.1 161.7,463.0 162.8,462.8 163.8,462.7 164.9,462.5 165.9,462.4 167.0,462.2 168.0,462.0 169.1,461.8 170.1,461.6 171.1,461.5 172.1,461.3 173.2,461.1 174.2,460.9 175.2,460.6 176.2,460.4 177.2,460.2 178.2,460.0 179.2,459.7 180.2,459.5 181.2,459.3 182.1,459.0 183.1,458.8 184.1,458.5 185.0,458.2 186.0,458.0 186.9,457.7 187.9,457.4 188.8,457.1 189.7,456.8 190.7,456.6 191.6,456.3 192.5,456.0 193.4,455.7 194.3,455.3 195.2,455.0 196.1,454.7 196.9,454.4 197.8,454.1 198.7,453.7 199.5,453.4 200.4,453.1 201.2,452.7 202.0,452.4 202.9,452.0 203.7,451.7 204.5,451.3 205.3,450.9 206.1,450.6 206.9,450.2 207.6,449.8 208.4,449.4 209.2,449.1 209.9,448.7 210.6,448.3 211.4,447.9 212.1,447.5 212.8,447.1 213.5,446.7 214.2,446.3 214.9,445.9 215.6,445.5 216.3,445.0 217.0,444.6 217.6,444.2 218.3,443.8 218.9,443.4 219.5,442.9 220.2,442.5 220.8,442.1 221.4,441.6 222.0,441.2 222.6,440.7 223.1,440.3 223.7,439.9 224.3,439.4 224.8,439.0 225.4,438.5 225.9,438.0 226.4,437.6 226.9,437.1 227.4,436.7 227.9,436.2 228.4,435.7 228.9,435.3 229.4,434.8 229.8,434.3 230.3,433.9 230.7,433.4 231.1,432.9 231.6,432.4 232.0,432.0 232.4,431.5 232.8,431.0 233.1,430.5 233.5,430.0 233.9,429.5 234.2,429.1 234.6,428.6 234.9,428.1 235.2,427.6 235.6,427.1 235.9,426.6 236.2,426.1 236.5,425.6 236.7,425.1 237.0,424.6 237.3,424.1 237.5,423.7 237.8,423.2 238.0,422.7 238.2,422.2 238.5,421.7 238.7,421.2 238.9,420.7 239.1,420.2 239.2,419.7 239.4,419.2 239.6,418.7 239.7,418.2 239.9,417.7 240.0,417.2 240.1,416.7 240.2,416.2 240.4,415.7 240.5,415.2 240.5,414.7 240.6,414.2 240.7,413.7 240.8,413.2" stroke="#000" stroke-opacity="0.14" stroke-width="7"/></g>
<polygon points="133.9,378.8 242.7,382.6 243.0,383.9 243.2,385.3 243.3,386.7 243.4,388.1 243.3,389.5 243.2,390.9 243.0,392.3 242.8,393.7 242.4,395.1 242.0,396.6 241.5,398.0 240.9,399.4 240.3,400.8 239.5,402.2 238.7,403.6 237.7,405.0 236.7,406.4 235.6,407.8 234.5,409.2 233.2,410.5 231.9,411.9 230.4,413.2 228.9,414.5 227.3,415.8 225.6,417.1 223.9,418.4 222.0,419.6 220.1,420.8 218.1,422.0 216.0,423.2 213.8,424.4 211.6,425.5 209.3,426.6 206.9,427.6 204.4,428.7 201.9,429.6 199.3,430.6 196.6,431.5 193.9,432.4 191.1,433.3 188.3,434.1 185.4,434.8 182.4,435.5 179.4,436.2 176.3,436.9 173.2,437.5 170.1,438.0 166.9,438.5 163.7,439.0 160.4,439.4 157.2,439.7 153.9,440.0 150.5,440.3 147.2,440.5 143.8,440.7 140.5,440.8 137.1,440.8 133.7,440.8 130.3,440.8 127.0,440.7 123.6,440.6 120.2,440.4 116.9,440.1 113.6,439.8 110.3,439.5 107.0,439.1 103.8,438.7 100.6,438.2 97.4,437.6 94.3,437.1 91.2,436.4 88.1,435.8 85.1,435.1 82.2,434.3 79.3,433.5 76.4,432.7 73.7,431.8 71.0,430.9 68.3,430.0 65.7,429.0 63.2,428.0 60.8,426.9 58.4,425.8 56.1,424.7 53.9,423.6 51.7,422.4 49.6,421.2 47.6,420.0 45.7,418.8 43.9,417.5 42.2,416.2 40.5,414.9 38.9,413.6" fill="url(#gMe1)"/>
<defs></defs>
<polygon points="408.4,367.6 407.0,326.7 406.8,346.7 408.2,389.8" fill="#3a3a3a" stroke="#3a3a3a" stroke-width="0.5" stroke-linejoin="round"/>
<polygon points="408.4,367.6 510.3,363.8 508.2,385.7 408.2,389.8" fill="#272727" stroke="#272727" stroke-width="0.5" stroke-linejoin="round"/>
<polygon points="408.4,367.6 407.0,326.7 409.3,326.7 411.7,326.7 414.0,326.8 416.4,326.9 418.7,327.0 421.0,327.1 423.4,327.3 425.7,327.5 428.0,327.7 430.3,327.9 432.6,328.1 434.9,328.4 437.2,328.7 439.5,329.0 441.7,329.4 444.0,329.8 446.2,330.2 448.4,330.6 450.6,331.0 452.8,331.5 455.0,332.0 457.1,332.5 459.2,333.0 461.3,333.6 463.4,334.2 465.4,334.8 467.5,335.4 469.4,336.1 471.4,336.7 473.4,337.4 475.3,338.2 477.1,338.9 479.0,339.7 480.8,340.4 482.6,341.3 484.3,342.1 486.0,342.9 487.7,343.8 489.3,344.7 490.9,345.6 492.4,346.5 493.9,347.5 495.4,348.4 496.8,349.4 498.1,350.4 499.4,351.4 500.7,352.5 501.9,353.5 503.1,354.6 504.2,355.7 505.2,356.8 506.2,357.9 507.1,359.1 508.0,360.2 508.8,361.4 509.6,362.6 510.3,363.8" fill="url(#gA1)"/>
<defs><linearGradient id="wm2" gradientUnits="userSpaceOnUse" x1="358.9" y1="0" x2="276.4" y2="0"><stop offset="-0.000" stop-color="#5e5e5e"/><stop offset="0.478" stop-color="#626262"/><stop offset="0.921" stop-color="#6a6a6a"/><stop offset="1.000" stop-color="#707070"/></linearGradient><clipPath id="cm2"><polygon points="358.5,429.0 357.4,428.9 356.4,428.8 355.3,428.7 354.3,428.5 353.2,428.4 352.2,428.3 351.1,428.2 350.1,428.0 349.1,427.9 348.0,427.7 347.0,427.6 346.0,427.4 345.0,427.3 344.0,427.1 343.0,427.0 341.9,426.8 340.9,426.6 340.0,426.4 339.0,426.2 338.0,426.0 337.0,425.8 336.0,425.6 335.1,425.4 334.1,425.2 333.1,425.0 332.2,424.8 331.2,424.6 330.3,424.3 329.3,424.1 328.4,423.9 327.5,423.6 326.6,423.4 325.7,423.1 324.8,422.9 323.9,422.6 323.0,422.4 322.1,422.1 321.2,421.8 320.3,421.6 319.4,421.3 318.6,421.0 317.7,420.7 316.9,420.4 316.0,420.1 315.2,419.8 314.4,419.5 313.6,419.2 312.8,418.9 312.0,418.6 311.2,418.3 310.4,418.0 309.6,417.7 308.8,417.3 308.1,417.0 307.3,416.7 306.5,416.4 305.8,416.0 305.1,415.7 304.3,415.3 303.6,415.0 302.9,414.6 302.2,414.3 301.5,413.9 300.8,413.6 300.2,413.2 299.5,412.8 298.8,412.5 298.2,412.1 297.5,411.7 296.9,411.4 296.3,411.0 295.7,410.6 295.1,410.2 294.5,409.8 293.9,409.5 293.3,409.1 292.7,408.7 292.1,408.3 291.6,407.9 291.0,407.5 290.5,407.1 290.0,406.7 289.5,406.3 289.0,405.9 288.4,405.5 288.0,405.1 287.5,404.6 287.0,404.2 286.5,403.8 286.1,403.4 285.6,403.0 285.2,402.6 284.8,402.1 284.3,401.7 283.9,401.3 283.5,400.9 283.1,400.4 282.8,400.0 282.4,399.6 282.0,399.2 281.7,398.7 281.3,398.3 281.0,397.9 280.7,397.4 280.3,397.0 280.0,396.6 279.7,396.1 279.4,395.7 279.1,395.2 278.9,394.8 278.6,394.4 278.4,393.9 278.1,393.5 277.9,393.0 277.6,392.6 277.4,392.2 277.2,391.7 277.0,391.3 276.8,390.8 276.6,390.4 276.5,389.9 276.3,389.5 276.1,389.0 276.0,388.6 275.9,388.2 275.7,387.7 275.6,387.3 275.5,386.8 275.4,386.4 275.3,385.9 275.2,385.5 275.1,385.0 275.1,384.6 275.0,384.2 277.5,407.2 277.5,407.6 277.6,408.1 277.7,408.6 277.8,409.0 277.9,409.5 278.0,410.0 278.1,410.4 278.2,410.9 278.3,411.4 278.5,411.8 278.6,412.3 278.8,412.8 279.0,413.2 279.1,413.7 279.3,414.2 279.5,414.6 279.7,415.1 279.9,415.6 280.1,416.0 280.4,416.5 280.6,417.0 280.8,417.4 281.1,417.9 281.3,418.3 281.6,418.8 281.9,419.3 282.2,419.7 282.5,420.2 282.8,420.6 283.1,421.1 283.4,421.5 283.8,422.0 284.1,422.4 284.5,422.9 284.8,423.3 285.2,423.8 285.6,424.2 286.0,424.7 286.3,425.1 286.8,425.6 287.2,426.0 287.6,426.5 288.0,426.9 288.5,427.3 288.9,427.8 289.4,428.2 289.8,428.6 290.3,429.1 290.8,429.5 291.3,429.9 291.8,430.4 292.3,430.8 292.8,431.2 293.3,431.6 293.9,432.0 294.4,432.4 295.0,432.9 295.5,433.3 296.1,433.7 296.7,434.1 297.3,434.5 297.9,434.9 298.5,435.3 299.1,435.7 299.7,436.1 300.4,436.4 301.0,436.8 301.6,437.2 302.3,437.6 303.0,438.0 303.6,438.4 304.3,438.7 305.0,439.1 305.7,439.5 306.4,439.8 307.1,440.2 307.8,440.5 308.6,440.9 309.3,441.2 310.0,441.6 310.8,441.9 311.5,442.3 312.3,442.6 313.1,442.9 313.9,443.3 314.7,443.6 315.4,443.9 316.2,444.2 317.1,444.5 317.9,444.8 318.7,445.1 319.5,445.4 320.4,445.7 321.2,446.0 322.1,446.3 322.9,446.6 323.8,446.9 324.6,447.2 325.5,447.4 326.4,447.7 327.3,448.0 328.2,448.2 329.1,448.5 330.0,448.7 330.9,449.0 331.8,449.2 332.7,449.5 333.7,449.7 334.6,449.9 335.5,450.2 336.5,450.4 337.4,450.6 338.4,450.8 339.3,451.0 340.3,451.2 341.3,451.4 342.2,451.6 343.2,451.8 344.2,452.0 345.2,452.1 346.2,452.3 347.2,452.5 348.2,452.6 349.2,452.8 350.2,452.9 351.2,453.1 352.2,453.2 353.2,453.4 354.2,453.5 355.3,453.6 356.3,453.7 357.3,453.8 358.3,454.0 359.4,454.1"/></clipPath></defs>
<polygon points="381.8,372.3 358.5,429.0 359.4,454.1 382.1,394.8" fill="#585858" stroke="#585858" stroke-width="0.5" stroke-linejoin="round"/>
<polygon points="381.8,372.3 383.9,330.3 384.2,350.4 382.1,394.8" fill="#9a9a9a" stroke="#9a9a9a" stroke-width="0.5" stroke-linejoin="round"/>
<polygon points="358.5,429.0 357.4,428.9 356.4,428.8 355.3,428.7 354.3,428.5 353.2,428.4 352.2,428.3 351.1,428.2 350.1,428.0 349.1,427.9 348.0,427.7 347.0,427.6 346.0,427.4 345.0,427.3 344.0,427.1 343.0,427.0 341.9,426.8 340.9,426.6 340.0,426.4 339.0,426.2 338.0,426.0 337.0,425.8 336.0,425.6 335.1,425.4 334.1,425.2 333.1,425.0 332.2,424.8 331.2,424.6 330.3,424.3 329.3,424.1 328.4,423.9 327.5,423.6 326.6,423.4 325.7,423.1 324.8,422.9 323.9,422.6 323.0,422.4 322.1,422.1 321.2,421.8 320.3,421.6 319.4,421.3 318.6,421.0 317.7,420.7 316.9,420.4 316.0,420.1 315.2,419.8 314.4,419.5 313.6,419.2 312.8,418.9 312.0,418.6 311.2,418.3 310.4,418.0 309.6,417.7 308.8,417.3 308.1,417.0 307.3,416.7 306.5,416.4 305.8,416.0 305.1,415.7 304.3,415.3 303.6,415.0 302.9,414.6 302.2,414.3 301.5,413.9 300.8,413.6 300.2,413.2 299.5,412.8 298.8,412.5 298.2,412.1 297.5,411.7 296.9,411.4 296.3,411.0 295.7,410.6 295.1,410.2 294.5,409.8 293.9,409.5 293.3,409.1 292.7,408.7 292.1,408.3 291.6,407.9 291.0,407.5 290.5,407.1 290.0,406.7 289.5,406.3 289.0,405.9 288.4,405.5 288.0,405.1 287.5,404.6 287.0,404.2 286.5,403.8 286.1,403.4 285.6,403.0 285.2,402.6 284.8,402.1 284.3,401.7 283.9,401.3 283.5,400.9 283.1,400.4 282.8,400.0 282.4,399.6 282.0,399.2 281.7,398.7 281.3,398.3 281.0,397.9 280.7,397.4 280.3,397.0 280.0,396.6 279.7,396.1 279.4,395.7 279.1,395.2 278.9,394.8 278.6,394.4 278.4,393.9 278.1,393.5 277.9,393.0 277.6,392.6 277.4,392.2 277.2,391.7 277.0,391.3 276.8,390.8 276.6,390.4 276.5,389.9 276.3,389.5 276.1,389.0 276.0,388.6 275.9,388.2 275.7,387.7 275.6,387.3 275.5,386.8 275.4,386.4 275.3,385.9 275.2,385.5 275.1,385.0 275.1,384.6 275.0,384.2 277.5,407.2 277.5,407.6 277.6,408.1 277.7,408.6 277.8,409.0 277.9,409.5 278.0,410.0 278.1,410.4 278.2,410.9 278.3,411.4 278.5,411.8 278.6,412.3 278.8,412.8 279.0,413.2 279.1,413.7 279.3,414.2 279.5,414.6 279.7,415.1 279.9,415.6 280.1,416.0 280.4,416.5 280.6,417.0 280.8,417.4 281.1,417.9 281.3,418.3 281.6,418.8 281.9,419.3 282.2,419.7 282.5,420.2 282.8,420.6 283.1,421.1 283.4,421.5 283.8,422.0 284.1,422.4 284.5,422.9 284.8,423.3 285.2,423.8 285.6,424.2 286.0,424.7 286.3,425.1 286.8,425.6 287.2,426.0 287.6,426.5 288.0,426.9 288.5,427.3 288.9,427.8 289.4,428.2 289.8,428.6 290.3,429.1 290.8,429.5 291.3,429.9 291.8,430.4 292.3,430.8 292.8,431.2 293.3,431.6 293.9,432.0 294.4,432.4 295.0,432.9 295.5,433.3 296.1,433.7 296.7,434.1 297.3,434.5 297.9,434.9 298.5,435.3 299.1,435.7 299.7,436.1 300.4,436.4 301.0,436.8 301.6,437.2 302.3,437.6 303.0,438.0 303.6,438.4 304.3,438.7 305.0,439.1 305.7,439.5 306.4,439.8 307.1,440.2 307.8,440.5 308.6,440.9 309.3,441.2 310.0,441.6 310.8,441.9 311.5,442.3 312.3,442.6 313.1,442.9 313.9,443.3 314.7,443.6 315.4,443.9 316.2,444.2 317.1,444.5 317.9,444.8 318.7,445.1 319.5,445.4 320.4,445.7 321.2,446.0 322.1,446.3 322.9,446.6 323.8,446.9 324.6,447.2 325.5,447.4 326.4,447.7 327.3,448.0 328.2,448.2 329.1,448.5 330.0,448.7 330.9,449.0 331.8,449.2 332.7,449.5 333.7,449.7 334.6,449.9 335.5,450.2 336.5,450.4 337.4,450.6 338.4,450.8 339.3,451.0 340.3,451.2 341.3,451.4 342.2,451.6 343.2,451.8 344.2,452.0 345.2,452.1 346.2,452.3 347.2,452.5 348.2,452.6 349.2,452.8 350.2,452.9 351.2,453.1 352.2,453.2 353.2,453.4 354.2,453.5 355.3,453.6 356.3,453.7 357.3,453.8 358.3,454.0 359.4,454.1" fill="url(#wm2)" stroke="url(#wm2)" stroke-width="0.5" stroke-linejoin="round"/>
<g clip-path="url(#cm2)" fill="none"><polyline points="358.5,429.0 357.4,428.9 356.4,428.8 355.3,428.7 354.3,428.5 353.2,428.4 352.2,428.3 351.1,428.2 350.1,428.0 349.1,427.9 348.0,427.7 347.0,427.6 346.0,427.4 345.0,427.3 344.0,427.1 343.0,427.0 341.9,426.8 340.9,426.6 340.0,426.4 339.0,426.2 338.0,426.0 337.0,425.8 336.0,425.6 335.1,425.4 334.1,425.2 333.1,425.0 332.2,424.8 331.2,424.6 330.3,424.3 329.3,424.1 328.4,423.9 327.5,423.6 326.6,423.4 325.7,423.1 324.8,422.9 323.9,422.6 323.0,422.4 322.1,422.1 321.2,421.8 320.3,421.6 319.4,421.3 318.6,421.0 317.7,420.7 316.9,420.4 316.0,420.1 315.2,419.8 314.4,419.5 313.6,419.2 312.8,418.9 312.0,418.6 311.2,418.3 310.4,418.0 309.6,417.7 308.8,417.3 308.1,417.0 307.3,416.7 306.5,416.4 305.8,416.0 305.1,415.7 304.3,415.3 303.6,415.0 302.9,414.6 302.2,414.3 301.5,413.9 300.8,413.6 300.2,413.2 299.5,412.8 298.8,412.5 298.2,412.1 297.5,411.7 296.9,411.4 296.3,411.0 295.7,410.6 295.1,410.2 294.5,409.8 293.9,409.5 293.3,409.1 292.7,408.7 292.1,408.3 291.6,407.9 291.0,407.5 290.5,407.1 290.0,406.7 289.5,406.3 289.0,405.9 288.4,405.5 288.0,405.1 287.5,404.6 287.0,404.2 286.5,403.8 286.1,403.4 285.6,403.0 285.2,402.6 284.8,402.1 284.3,401.7 283.9,401.3 283.5,400.9 283.1,400.4 282.8,400.0 282.4,399.6 282.0,399.2 281.7,398.7 281.3,398.3 281.0,397.9 280.7,397.4 280.3,397.0 280.0,396.6 279.7,396.1 279.4,395.7 279.1,395.2 278.9,394.8 278.6,394.4 278.4,393.9 278.1,393.5 277.9,393.0 277.6,392.6 277.4,392.2 277.2,391.7 277.0,391.3 276.8,390.8 276.6,390.4 276.5,389.9 276.3,389.5 276.1,389.0 276.0,388.6 275.9,388.2 275.7,387.7 275.6,387.3 275.5,386.8 275.4,386.4 275.3,385.9 275.2,385.5 275.1,385.0 275.1,384.6 275.0,384.2" stroke="#fff" stroke-opacity="0.22" stroke-width="3.2"/><polyline points="277.5,407.2 277.5,407.6 277.6,408.1 277.7,408.6 277.8,409.0 277.9,409.5 278.0,410.0 278.1,410.4 278.2,410.9 278.3,411.4 278.5,411.8 278.6,412.3 278.8,412.8 279.0,413.2 279.1,413.7 279.3,414.2 279.5,414.6 279.7,415.1 279.9,415.6 280.1,416.0 280.4,416.5 280.6,417.0 280.8,417.4 281.1,417.9 281.3,418.3 281.6,418.8 281.9,419.3 282.2,419.7 282.5,420.2 282.8,420.6 283.1,421.1 283.4,421.5 283.8,422.0 284.1,422.4 284.5,422.9 284.8,423.3 285.2,423.8 285.6,424.2 286.0,424.7 286.3,425.1 286.8,425.6 287.2,426.0 287.6,426.5 288.0,426.9 288.5,427.3 288.9,427.8 289.4,428.2 289.8,428.6 290.3,429.1 290.8,429.5 291.3,429.9 291.8,430.4 292.3,430.8 292.8,431.2 293.3,431.6 293.9,432.0 294.4,432.4 295.0,432.9 295.5,433.3 296.1,433.7 296.7,434.1 297.3,434.5 297.9,434.9 298.5,435.3 299.1,435.7 299.7,436.1 300.4,436.4 301.0,436.8 301.6,437.2 302.3,437.6 303.0,438.0 303.6,438.4 304.3,438.7 305.0,439.1 305.7,439.5 306.4,439.8 307.1,440.2 307.8,440.5 308.6,440.9 309.3,441.2 310.0,441.6 310.8,441.9 311.5,442.3 312.3,442.6 313.1,442.9 313.9,443.3 314.7,443.6 315.4,443.9 316.2,444.2 317.1,444.5 317.9,444.8 318.7,445.1 319.5,445.4 320.4,445.7 321.2,446.0 322.1,446.3 322.9,446.6 323.8,446.9 324.6,447.2 325.5,447.4 326.4,447.7 327.3,448.0 328.2,448.2 329.1,448.5 330.0,448.7 330.9,449.0 331.8,449.2 332.7,449.5 333.7,449.7 334.6,449.9 335.5,450.2 336.5,450.4 337.4,450.6 338.4,450.8 339.3,451.0 340.3,451.2 341.3,451.4 342.2,451.6 343.2,451.8 344.2,452.0 345.2,452.1 346.2,452.3 347.2,452.5 348.2,452.6 349.2,452.8 350.2,452.9 351.2,453.1 352.2,453.2 353.2,453.4 354.2,453.5 355.3,453.6 356.3,453.7 357.3,453.8 358.3,454.0 359.4,454.1" stroke="#000" stroke-opacity="0.14" stroke-width="7"/></g>
<polygon points="381.8,372.3 358.5,429.0 355.3,428.7 352.2,428.3 349.1,427.9 346.0,427.4 343.0,427.0 340.0,426.4 337.1,425.9 334.2,425.2 331.3,424.6 328.5,423.9 325.7,423.2 323.0,422.4 320.4,421.6 317.8,420.8 315.3,419.9 312.9,419.0 310.5,418.0 308.2,417.1 305.9,416.1 303.7,415.0 301.6,414.0 299.6,412.9 297.7,411.8 295.8,410.7 294.0,409.5 292.3,408.4 290.6,407.2 289.1,406.0 287.6,404.7 286.2,403.5 284.9,402.3 283.6,401.0 282.5,399.7 281.4,398.4 280.4,397.1 279.5,395.8 278.7,394.5 277.9,393.2 277.3,391.9 276.7,390.5 276.2,389.2 275.8,387.9 275.4,386.5 275.2,385.2 275.0,383.9 274.9,382.5 274.8,381.2 274.9,379.9 275.0,378.6 275.2,377.3 275.4,376.0 275.8,374.7 276.2,373.4 276.6,372.1 277.2,370.9 277.8,369.6 278.4,368.4 279.2,367.2 280.0,365.9 280.8,364.7 281.7,363.6 282.7,362.4 283.7,361.2 284.8,360.1 286.0,359.0 287.2,357.9 288.4,356.8 289.7,355.7 291.1,354.7 292.5,353.6 293.9,352.6 295.4,351.6 296.9,350.6 298.5,349.7 300.1,348.7 301.8,347.8 303.5,346.9 305.3,346.1 307.0,345.2 308.9,344.4 310.7,343.6 312.6,342.8 314.5,342.0 316.5,341.3 318.4,340.6 320.4,339.9 322.5,339.2 324.5,338.6 326.6,338.0 328.7,337.4 330.9,336.8 333.0,336.2 335.2,335.7 337.4,335.2 339.6,334.7 341.9,334.3 344.1,333.8 346.4,333.4 348.7,333.0 351.0,332.7 353.3,332.3 355.6,332.0 357.9,331.8 360.2,331.5 362.6,331.3 365.0,331.0 367.3,330.9 369.7,330.7 372.1,330.6 374.4,330.4 376.8,330.4 379.2,330.3 381.6,330.3 383.9,330.3" fill="url(#gM1)"/>
<defs><linearGradient id="wap2" gradientUnits="userSpaceOnUse" x1="513.1" y1="0" x2="389.9" y2="0"><stop offset="-0.000" stop-color="#343434"/><stop offset="-0.028" stop-color="#383838"/><stop offset="0.030" stop-color="#404040"/><stop offset="0.206" stop-color="#4a4a4a"/><stop offset="0.487" stop-color="#535353"/><stop offset="0.742" stop-color="#595959"/><stop offset="1.000" stop-color="#5e5e5e"/></linearGradient><clipPath id="cap2"><polygon points="517.6,390.5 517.5,391.0 517.5,391.5 517.4,391.9 517.3,392.4 517.2,392.9 517.1,393.3 517.0,393.8 516.8,394.2 516.7,394.7 516.6,395.2 516.4,395.6 516.3,396.1 516.1,396.6 515.9,397.0 515.7,397.5 515.5,398.0 515.3,398.4 515.1,398.9 514.9,399.3 514.7,399.8 514.4,400.3 514.2,400.7 513.9,401.2 513.7,401.6 513.4,402.1 513.1,402.6 512.8,403.0 512.5,403.5 512.2,403.9 511.8,404.4 511.5,404.8 511.2,405.3 510.8,405.7 510.4,406.2 510.1,406.6 509.7,407.1 509.3,407.5 508.9,408.0 508.5,408.4 508.1,408.9 507.7,409.3 507.2,409.7 506.8,410.2 506.3,410.6 505.8,411.1 505.4,411.5 504.9,411.9 504.4,412.4 503.9,412.8 503.4,413.2 502.9,413.6 502.3,414.1 501.8,414.5 501.2,414.9 500.7,415.3 500.1,415.7 499.5,416.1 499.0,416.6 498.4,417.0 497.8,417.4 497.2,417.8 496.5,418.2 495.9,418.6 495.3,419.0 494.6,419.4 494.0,419.7 493.3,420.1 492.6,420.5 491.9,420.9 491.2,421.3 490.5,421.7 489.8,422.0 489.1,422.4 488.4,422.8 487.7,423.1 486.9,423.5 486.2,423.8 485.4,424.2 484.7,424.5 483.9,424.9 483.1,425.2 482.3,425.6 481.5,425.9 480.7,426.3 479.9,426.6 479.1,426.9 478.2,427.2 477.4,427.6 476.6,427.9 475.7,428.2 474.8,428.5 474.0,428.8 473.1,429.1 472.2,429.4 471.3,429.7 470.4,430.0 469.5,430.3 468.6,430.5 467.7,430.8 466.8,431.1 465.9,431.3 464.9,431.6 464.0,431.9 463.1,432.1 462.1,432.4 461.1,432.6 460.2,432.9 459.2,433.1 458.2,433.3 457.3,433.5 456.3,433.8 455.3,434.0 454.3,434.2 453.3,434.4 452.3,434.6 451.3,434.8 450.2,435.0 449.2,435.2 448.2,435.4 447.2,435.6 446.1,435.7 445.1,435.9 444.0,436.1 443.0,436.2 441.9,436.4 440.9,436.5 439.8,436.7 438.8,436.8 437.7,436.9 436.6,437.1 435.5,437.2 434.5,437.3 433.4,437.4 432.3,437.5 431.2,437.6 430.1,437.7 429.0,437.8 427.9,437.9 426.9,438.0 425.8,438.1 424.7,438.1 423.6,438.2 422.5,438.3 421.3,438.3 420.2,438.4 419.1,438.4 418.0,438.4 416.9,438.5 415.8,438.5 414.7,438.5 413.6,438.5 412.5,438.5 411.4,438.6 410.3,438.6 409.1,438.5 408.0,438.5 406.9,438.5 405.8,438.5 404.7,438.5 403.6,438.4 402.5,438.4 401.4,438.4 400.2,438.3 399.1,438.3 398.0,438.2 396.9,438.1 395.8,438.1 394.7,438.0 393.6,437.9 392.5,437.8 391.4,437.7 390.3,437.6 389.9,437.6 390.1,463.0 390.5,463.1 391.6,463.2 392.6,463.3 393.7,463.4 394.8,463.5 395.9,463.5 396.9,463.6 398.0,463.7 399.1,463.7 400.2,463.8 401.3,463.8 402.4,463.9 403.4,463.9 404.5,464.0 405.6,464.0 406.7,464.0 407.8,464.0 408.9,464.0 410.0,464.1 411.0,464.1 412.1,464.0 413.2,464.0 414.3,464.0 415.4,464.0 416.5,464.0 417.6,463.9 418.6,463.9 419.7,463.8 420.8,463.8 421.9,463.7 423.0,463.7 424.0,463.6 425.1,463.5 426.2,463.5 427.2,463.4 428.3,463.3 429.4,463.2 430.4,463.1 431.5,463.0 432.6,462.9 433.6,462.8 434.7,462.6 435.7,462.5 436.8,462.4 437.8,462.2 438.8,462.1 439.9,461.9 440.9,461.8 441.9,461.6 443.0,461.5 444.0,461.3 445.0,461.1 446.0,460.9 447.0,460.7 448.0,460.5 449.0,460.4 450.0,460.2 451.0,459.9 452.0,459.7 453.0,459.5 453.9,459.3 454.9,459.1 455.9,458.8 456.8,458.6 457.8,458.4 458.7,458.1 459.7,457.9 460.6,457.6 461.5,457.3 462.5,457.1 463.4,456.8 464.3,456.5 465.2,456.3 466.1,456.0 467.0,455.7 467.9,455.4 468.8,455.1 469.7,454.8 470.5,454.5 471.4,454.2 472.2,453.9 473.1,453.6 473.9,453.2 474.8,452.9 475.6,452.6 476.4,452.2 477.2,451.9 478.0,451.6 478.8,451.2 479.6,450.9 480.4,450.5 481.2,450.2 481.9,449.8 482.7,449.4 483.4,449.1 484.2,448.7 484.9,448.3 485.6,448.0 486.4,447.6 487.1,447.2 487.8,446.8 488.5,446.4 489.2,446.0 489.8,445.6 490.5,445.2 491.2,444.8 491.8,444.4 492.5,444.0 493.1,443.6 493.7,443.2 494.3,442.8 494.9,442.4 495.5,441.9 496.1,441.5 496.7,441.1 497.3,440.7 497.9,440.2 498.4,439.8 499.0,439.4 499.5,438.9 500.0,438.5 500.6,438.0 501.1,437.6 501.6,437.2 502.1,436.7 502.5,436.3 503.0,435.8 503.5,435.4 503.9,434.9 504.4,434.4 504.8,434.0 505.3,433.5 505.7,433.1 506.1,432.6 506.5,432.1 506.9,431.7 507.3,431.2 507.7,430.7 508.0,430.3 508.4,429.8 508.7,429.3 509.1,428.8 509.4,428.4 509.7,427.9 510.0,427.4 510.3,426.9 510.6,426.5 510.9,426.0 511.2,425.5 511.5,425.0 511.7,424.5 512.0,424.1 512.2,423.6 512.4,423.1 512.7,422.6 512.9,422.1 513.1,421.6 513.3,421.2 513.4,420.7 513.6,420.2 513.8,419.7 514.0,419.2 514.1,418.7 514.2,418.2 514.4,417.8 514.5,417.3 514.6,416.8 514.7,416.3 514.8,415.8 514.9,415.3 515.0,414.8 515.1,414.4 515.1,413.9"/></clipPath></defs>
<polygon points="517.6,390.5 517.5,391.0 517.5,391.5 517.4,391.9 517.3,392.4 517.2,392.9 517.1,393.3 517.0,393.8 516.8,394.2 516.7,394.7 516.6,395.2 516.4,395.6 516.3,396.1 516.1,396.6 515.9,397.0 515.7,397.5 515.5,398.0 515.3,398.4 515.1,398.9 514.9,399.3 514.7,399.8 514.4,400.3 514.2,400.7 513.9,401.2 513.7,401.6 513.4,402.1 513.1,402.6 512.8,403.0 512.5,403.5 512.2,403.9 511.8,404.4 511.5,404.8 511.2,405.3 510.8,405.7 510.4,406.2 510.1,406.6 509.7,407.1 509.3,407.5 508.9,408.0 508.5,408.4 508.1,408.9 507.7,409.3 507.2,409.7 506.8,410.2 506.3,410.6 505.8,411.1 505.4,411.5 504.9,411.9 504.4,412.4 503.9,412.8 503.4,413.2 502.9,413.6 502.3,414.1 501.8,414.5 501.2,414.9 500.7,415.3 500.1,415.7 499.5,416.1 499.0,416.6 498.4,417.0 497.8,417.4 497.2,417.8 496.5,418.2 495.9,418.6 495.3,419.0 494.6,419.4 494.0,419.7 493.3,420.1 492.6,420.5 491.9,420.9 491.2,421.3 490.5,421.7 489.8,422.0 489.1,422.4 488.4,422.8 487.7,423.1 486.9,423.5 486.2,423.8 485.4,424.2 484.7,424.5 483.9,424.9 483.1,425.2 482.3,425.6 481.5,425.9 480.7,426.3 479.9,426.6 479.1,426.9 478.2,427.2 477.4,427.6 476.6,427.9 475.7,428.2 474.8,428.5 474.0,428.8 473.1,429.1 472.2,429.4 471.3,429.7 470.4,430.0 469.5,430.3 468.6,430.5 467.7,430.8 466.8,431.1 465.9,431.3 464.9,431.6 464.0,431.9 463.1,432.1 462.1,432.4 461.1,432.6 460.2,432.9 459.2,433.1 458.2,433.3 457.3,433.5 456.3,433.8 455.3,434.0 454.3,434.2 453.3,434.4 452.3,434.6 451.3,434.8 450.2,435.0 449.2,435.2 448.2,435.4 447.2,435.6 446.1,435.7 445.1,435.9 444.0,436.1 443.0,436.2 441.9,436.4 440.9,436.5 439.8,436.7 438.8,436.8 437.7,436.9 436.6,437.1 435.5,437.2 434.5,437.3 433.4,437.4 432.3,437.5 431.2,437.6 430.1,437.7 429.0,437.8 427.9,437.9 426.9,438.0 425.8,438.1 424.7,438.1 423.6,438.2 422.5,438.3 421.3,438.3 420.2,438.4 419.1,438.4 418.0,438.4 416.9,438.5 415.8,438.5 414.7,438.5 413.6,438.5 412.5,438.5 411.4,438.6 410.3,438.6 409.1,438.5 408.0,438.5 406.9,438.5 405.8,438.5 404.7,438.5 403.6,438.4 402.5,438.4 401.4,438.4 400.2,438.3 399.1,438.3 398.0,438.2 396.9,438.1 395.8,438.1 394.7,438.0 393.6,437.9 392.5,437.8 391.4,437.7 390.3,437.6 389.9,437.6 390.1,463.0 390.5,463.1 391.6,463.2 392.6,463.3 393.7,463.4 394.8,463.5 395.9,463.5 396.9,463.6 398.0,463.7 399.1,463.7 400.2,463.8 401.3,463.8 402.4,463.9 403.4,463.9 404.5,464.0 405.6,464.0 406.7,464.0 407.8,464.0 408.9,464.0 410.0,464.1 411.0,464.1 412.1,464.0 413.2,464.0 414.3,464.0 415.4,464.0 416.5,464.0 417.6,463.9 418.6,463.9 419.7,463.8 420.8,463.8 421.9,463.7 423.0,463.7 424.0,463.6 425.1,463.5 426.2,463.5 427.2,463.4 428.3,463.3 429.4,463.2 430.4,463.1 431.5,463.0 432.6,462.9 433.6,462.8 434.7,462.6 435.7,462.5 436.8,462.4 437.8,462.2 438.8,462.1 439.9,461.9 440.9,461.8 441.9,461.6 443.0,461.5 444.0,461.3 445.0,461.1 446.0,460.9 447.0,460.7 448.0,460.5 449.0,460.4 450.0,460.2 451.0,459.9 452.0,459.7 453.0,459.5 453.9,459.3 454.9,459.1 455.9,458.8 456.8,458.6 457.8,458.4 458.7,458.1 459.7,457.9 460.6,457.6 461.5,457.3 462.5,457.1 463.4,456.8 464.3,456.5 465.2,456.3 466.1,456.0 467.0,455.7 467.9,455.4 468.8,455.1 469.7,454.8 470.5,454.5 471.4,454.2 472.2,453.9 473.1,453.6 473.9,453.2 474.8,452.9 475.6,452.6 476.4,452.2 477.2,451.9 478.0,451.6 478.8,451.2 479.6,450.9 480.4,450.5 481.2,450.2 481.9,449.8 482.7,449.4 483.4,449.1 484.2,448.7 484.9,448.3 485.6,448.0 486.4,447.6 487.1,447.2 487.8,446.8 488.5,446.4 489.2,446.0 489.8,445.6 490.5,445.2 491.2,444.8 491.8,444.4 492.5,444.0 493.1,443.6 493.7,443.2 494.3,442.8 494.9,442.4 495.5,441.9 496.1,441.5 496.7,441.1 497.3,440.7 497.9,440.2 498.4,439.8 499.0,439.4 499.5,438.9 500.0,438.5 500.6,438.0 501.1,437.6 501.6,437.2 502.1,436.7 502.5,436.3 503.0,435.8 503.5,435.4 503.9,434.9 504.4,434.4 504.8,434.0 505.3,433.5 505.7,433.1 506.1,432.6 506.5,432.1 506.9,431.7 507.3,431.2 507.7,430.7 508.0,430.3 508.4,429.8 508.7,429.3 509.1,428.8 509.4,428.4 509.7,427.9 510.0,427.4 510.3,426.9 510.6,426.5 510.9,426.0 511.2,425.5 511.5,425.0 511.7,424.5 512.0,424.1 512.2,423.6 512.4,423.1 512.7,422.6 512.9,422.1 513.1,421.6 513.3,421.2 513.4,420.7 513.6,420.2 513.8,419.7 514.0,419.2 514.1,418.7 514.2,418.2 514.4,417.8 514.5,417.3 514.6,416.8 514.7,416.3 514.8,415.8 514.9,415.3 515.0,414.8 515.1,414.4 515.1,413.9" fill="url(#wap2)" stroke="url(#wap2)" stroke-width="0.5" stroke-linejoin="round"/>
<g clip-path="url(#cap2)" fill="none"><polyline points="517.6,390.5 517.5,391.0 517.5,391.5 517.4,391.9 517.3,392.4 517.2,392.9 517.1,393.3 517.0,393.8 516.8,394.2 516.7,394.7 516.6,395.2 516.4,395.6 516.3,396.1 516.1,396.6 515.9,397.0 515.7,397.5 515.5,398.0 515.3,398.4 515.1,398.9 514.9,399.3 514.7,399.8 514.4,400.3 514.2,400.7 513.9,401.2 513.7,401.6 513.4,402.1 513.1,402.6 512.8,403.0 512.5,403.5 512.2,403.9 511.8,404.4 511.5,404.8 511.2,405.3 510.8,405.7 510.4,406.2 510.1,406.6 509.7,407.1 509.3,407.5 508.9,408.0 508.5,408.4 508.1,408.9 507.7,409.3 507.2,409.7 506.8,410.2 506.3,410.6 505.8,411.1 505.4,411.5 504.9,411.9 504.4,412.4 503.9,412.8 503.4,413.2 502.9,413.6 502.3,414.1 501.8,414.5 501.2,414.9 500.7,415.3 500.1,415.7 499.5,416.1 499.0,416.6 498.4,417.0 497.8,417.4 497.2,417.8 496.5,418.2 495.9,418.6 495.3,419.0 494.6,419.4 494.0,419.7 493.3,420.1 492.6,420.5 491.9,420.9 491.2,421.3 490.5,421.7 489.8,422.0 489.1,422.4 488.4,422.8 487.7,423.1 486.9,423.5 486.2,423.8 485.4,424.2 484.7,424.5 483.9,424.9 483.1,425.2 482.3,425.6 481.5,425.9 480.7,426.3 479.9,426.6 479.1,426.9 478.2,427.2 477.4,427.6 476.6,427.9 475.7,428.2 474.8,428.5 474.0,428.8 473.1,429.1 472.2,429.4 471.3,429.7 470.4,430.0 469.5,430.3 468.6,430.5 467.7,430.8 466.8,431.1 465.9,431.3 464.9,431.6 464.0,431.9 463.1,432.1 462.1,432.4 461.1,432.6 460.2,432.9 459.2,433.1 458.2,433.3 457.3,433.5 456.3,433.8 455.3,434.0 454.3,434.2 453.3,434.4 452.3,434.6 451.3,434.8 450.2,435.0 449.2,435.2 448.2,435.4 447.2,435.6 446.1,435.7 445.1,435.9 444.0,436.1 443.0,436.2 441.9,436.4 440.9,436.5 439.8,436.7 438.8,436.8 437.7,436.9 436.6,437.1 435.5,437.2 434.5,437.3 433.4,437.4 432.3,437.5 431.2,437.6 430.1,437.7 429.0,437.8 427.9,437.9 426.9,438.0 425.8,438.1 424.7,438.1 423.6,438.2 422.5,438.3 421.3,438.3 420.2,438.4 419.1,438.4 418.0,438.4 416.9,438.5 415.8,438.5 414.7,438.5 413.6,438.5 412.5,438.5 411.4,438.6 410.3,438.6 409.1,438.5 408.0,438.5 406.9,438.5 405.8,438.5 404.7,438.5 403.6,438.4 402.5,438.4 401.4,438.4 400.2,438.3 399.1,438.3 398.0,438.2 396.9,438.1 395.8,438.1 394.7,438.0 393.6,437.9 392.5,437.8 391.4,437.7 390.3,437.6 389.9,437.6" stroke="#fff" stroke-opacity="0.22" stroke-width="3.2"/><polyline points="390.1,463.0 390.5,463.1 391.6,463.2 392.6,463.3 393.7,463.4 394.8,463.5 395.9,463.5 396.9,463.6 398.0,463.7 399.1,463.7 400.2,463.8 401.3,463.8 402.4,463.9 403.4,463.9 404.5,464.0 405.6,464.0 406.7,464.0 407.8,464.0 408.9,464.0 410.0,464.1 411.0,464.1 412.1,464.0 413.2,464.0 414.3,464.0 415.4,464.0 416.5,464.0 417.6,463.9 418.6,463.9 419.7,463.8 420.8,463.8 421.9,463.7 423.0,463.7 424.0,463.6 425.1,463.5 426.2,463.5 427.2,463.4 428.3,463.3 429.4,463.2 430.4,463.1 431.5,463.0 432.6,462.9 433.6,462.8 434.7,462.6 435.7,462.5 436.8,462.4 437.8,462.2 438.8,462.1 439.9,461.9 440.9,461.8 441.9,461.6 443.0,461.5 444.0,461.3 445.0,461.1 446.0,460.9 447.0,460.7 448.0,460.5 449.0,460.4 450.0,460.2 451.0,459.9 452.0,459.7 453.0,459.5 453.9,459.3 454.9,459.1 455.9,458.8 456.8,458.6 457.8,458.4 458.7,458.1 459.7,457.9 460.6,457.6 461.5,457.3 462.5,457.1 463.4,456.8 464.3,456.5 465.2,456.3 466.1,456.0 467.0,455.7 467.9,455.4 468.8,455.1 469.7,454.8 470.5,454.5 471.4,454.2 472.2,453.9 473.1,453.6 473.9,453.2 474.8,452.9 475.6,452.6 476.4,452.2 477.2,451.9 478.0,451.6 478.8,451.2 479.6,450.9 480.4,450.5 481.2,450.2 481.9,449.8 482.7,449.4 483.4,449.1 484.2,448.7 484.9,448.3 485.6,448.0 486.4,447.6 487.1,447.2 487.8,446.8 488.5,446.4 489.2,446.0 489.8,445.6 490.5,445.2 491.2,444.8 491.8,444.4 492.5,444.0 493.1,443.6 493.7,443.2 494.3,442.8 494.9,442.4 495.5,441.9 496.1,441.5 496.7,441.1 497.3,440.7 497.9,440.2 498.4,439.8 499.0,439.4 499.5,438.9 500.0,438.5 500.6,438.0 501.1,437.6 501.6,437.2 502.1,436.7 502.5,436.3 503.0,435.8 503.5,435.4 503.9,434.9 504.4,434.4 504.8,434.0 505.3,433.5 505.7,433.1 506.1,432.6 506.5,432.1 506.9,431.7 507.3,431.2 507.7,430.7 508.0,430.3 508.4,429.8 508.7,429.3 509.1,428.8 509.4,428.4 509.7,427.9 510.0,427.4 510.3,426.9 510.6,426.5 510.9,426.0 511.2,425.5 511.5,425.0 511.7,424.5 512.0,424.1 512.2,423.6 512.4,423.1 512.7,422.6 512.9,422.1 513.1,421.6 513.3,421.2 513.4,420.7 513.6,420.2 513.8,419.7 514.0,419.2 514.1,418.7 514.2,418.2 514.4,417.8 514.5,417.3 514.6,416.8 514.7,416.3 514.8,415.8 514.9,415.3 515.0,414.8 515.1,414.4 515.1,413.9" stroke="#000" stroke-opacity="0.14" stroke-width="7"/></g>
<polygon points="408.8,378.5 514.2,374.4 514.9,375.7 515.5,377.0 516.0,378.3 516.5,379.6 516.9,380.9 517.2,382.2 517.4,383.6 517.6,384.9 517.7,386.3 517.8,387.7 517.7,389.0 517.6,390.4 517.4,391.8 517.1,393.2 516.8,394.6 516.3,395.9 515.8,397.3 515.2,398.7 514.5,400.1 513.8,401.4 512.9,402.8 512.0,404.2 511.0,405.5 509.9,406.8 508.7,408.2 507.5,409.5 506.1,410.8 504.7,412.1 503.2,413.4 501.6,414.6 499.9,415.9 498.2,417.1 496.4,418.3 494.5,419.4 492.5,420.6 490.4,421.7 488.3,422.8 486.1,423.9 483.8,424.9 481.4,426.0 479.0,426.9 476.5,427.9 474.0,428.8 471.3,429.7 468.7,430.5 465.9,431.3 463.1,432.1 460.3,432.8 457.4,433.5 454.4,434.2 451.4,434.8 448.4,435.3 445.3,435.9 442.2,436.3 439.0,436.8 435.8,437.2 432.6,437.5 429.4,437.8 426.1,438.0 422.8,438.2 419.6,438.4 416.3,438.5 412.9,438.5 409.6,438.5 406.3,438.5 403.0,438.4 399.7,438.3 396.4,438.1 393.1,437.9 389.9,437.6" fill="url(#gMe1)"/>
<text x="71.7" y="355.1" font-size="12.05" font-weight="bold" text-anchor="middle" fill="#000" stroke="#000" stroke-width="0.25" style="white-space:pre">Multifactorial/</text>
<text x="70.8" y="369.5" font-size="12.05" font-weight="bold" text-anchor="middle" fill="#000" stroke="#000" stroke-width="0.25" style="white-space:pre">Other  23 (35%)</text>
<text x="179.3" y="347.7" font-size="12.05" font-weight="bold" text-anchor="middle" fill="#fff" stroke="#fff" stroke-width="0.25" style="white-space:pre">Anesthesia</text>
<text x="179.3" y="362.5" font-size="12.05" font-weight="bold" text-anchor="middle" fill="#fff" stroke="#fff" stroke-width="0.25" style="white-space:pre">17 (26%)</text>
<text x="148.2" y="406.6" font-size="12.05" font-weight="bold" text-anchor="middle" fill="#000" stroke="#000" stroke-width="0.25" style="white-space:pre">Mechanical</text>
<text x="148" y="422.3" font-size="12.05" font-weight="bold" text-anchor="middle" fill="#000" stroke="#000" stroke-width="0.25" style="white-space:pre">25 (38%)</text>
<text x="333.2" y="366.7" font-size="12.05" font-weight="bold" text-anchor="middle" fill="#000" stroke="#000" stroke-width="0.25" style="white-space:pre">Multifactorial/</text>
<text x="333" y="381.5" font-size="12.05" font-weight="bold" text-anchor="middle" fill="#000" stroke="#000" stroke-width="0.25" style="white-space:pre">Other</text>
<text x="333.2" y="395.8" font-size="12.05" font-weight="bold" text-anchor="middle" fill="#000" stroke="#000" stroke-width="0.25" style="white-space:pre">18 (47%)</text>
<text x="438.2" y="345" font-size="12.05" font-weight="bold" text-anchor="middle" fill="#fff" stroke="#fff" stroke-width="0.25" style="white-space:pre">G-CSF</text>
<text x="438.6" y="359" font-size="12.05" font-weight="bold" text-anchor="middle" fill="#fff" stroke="#fff" stroke-width="0.25" style="white-space:pre">9 (24%)</text>
<text x="453.6" y="399.5" font-size="12.05" font-weight="bold" text-anchor="middle" fill="#000" stroke="#000" stroke-width="0.25" style="white-space:pre">Apheresis</text>
<text x="453" y="415.5" font-size="12.05" font-weight="bold" text-anchor="middle" fill="#000" stroke="#000" stroke-width="0.25" style="white-space:pre">11 (29%)</text>
<text x="121.3" y="492" font-size="19.6" text-anchor="middle" fill="#000">BM (N=2726, n=65)</text>
<text x="395.5" y="492" font-size="19.6" text-anchor="middle" fill="#000">PBSC (N=6768, n=38)</text>
</svg>
</body></html>
